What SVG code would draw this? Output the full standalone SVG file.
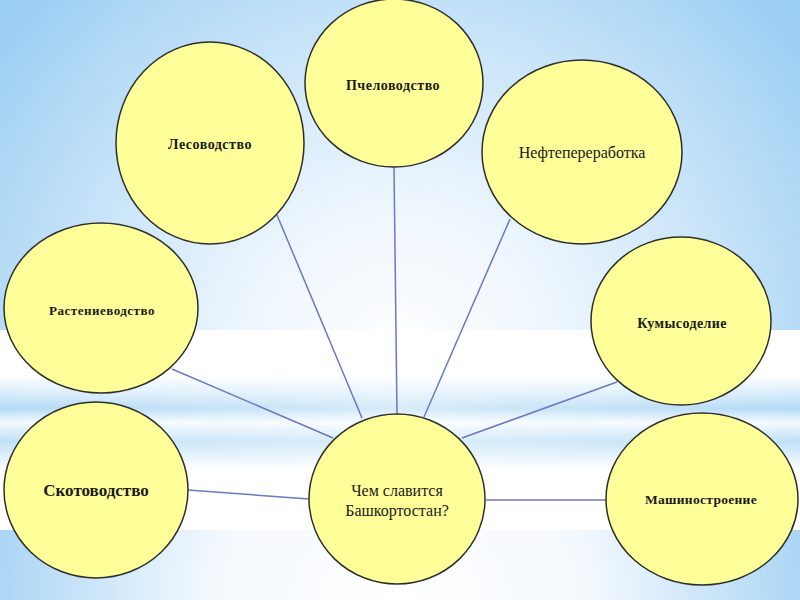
<svg xmlns="http://www.w3.org/2000/svg" width="800" height="600" viewBox="0 0 800 600">
<defs>
<radialGradient id="bgTop" cx="400" cy="360" r="520" gradientUnits="userSpaceOnUse">
<stop offset="0" stop-color="#ffffff"/>
<stop offset="0.3" stop-color="#eef6fd"/>
<stop offset="0.6" stop-color="#cde6f9"/>
<stop offset="1" stop-color="#9acef3"/>
</radialGradient>
<radialGradient id="bgBot" cx="400" cy="610" r="420" gradientUnits="userSpaceOnUse">
<stop offset="0" stop-color="#ffffff"/>
<stop offset="0.45" stop-color="#f4f9fe"/>
<stop offset="1" stop-color="#a6d3f4"/>
</radialGradient>
<linearGradient id="streakV" x1="0" y1="0" x2="0" y2="1">
<stop offset="0" stop-color="#ffffff"/>
<stop offset="0.2" stop-color="#d8ecfb"/>
<stop offset="0.35" stop-color="#b3daf6"/>
<stop offset="0.5" stop-color="#f4faff"/>
<stop offset="0.7" stop-color="#bfe0f7"/>
<stop offset="1" stop-color="#ffffff"/>
</linearGradient>
<linearGradient id="fadeH" x1="0" y1="0" x2="1" y2="0">
<stop offset="0" stop-color="#ffffff" stop-opacity="0"/>
<stop offset="0.5" stop-color="#ffffff" stop-opacity="0.45"/>
<stop offset="1" stop-color="#ffffff" stop-opacity="0"/>
</linearGradient>
<style>
.node ellipse{fill:#ffff99;stroke:#2e2e2e;stroke-width:1.5}
.node text{font-family:"Liberation Serif","Times New Roman",serif;fill:#1a1a1a;text-anchor:middle}
.b{font-weight:bold}
.n{fill:#3a3a2a}
#connectors line{stroke:#6b78c2;stroke-width:1.5}
</style>
</defs>
<g id="background">
<rect x="0" y="0" width="800" height="330" fill="url(#bgTop)"/>
<rect x="0" y="330" width="800" height="200" fill="#ffffff"/>
<rect x="0" y="375" width="800" height="95" fill="url(#streakV)"/>
<rect x="0" y="375" width="800" height="95" fill="url(#fadeH)"/>
<rect x="0" y="530" width="800" height="70" fill="url(#bgBot)"/>
</g>
<g id="connectors">
<line x1="277" y1="215" x2="362" y2="418"/>
<line x1="394" y1="167" x2="397" y2="414"/>
<line x1="510" y1="219" x2="424" y2="417"/>
<line x1="172" y1="369" x2="333" y2="438"/>
<line x1="617" y1="382" x2="462" y2="438"/>
<line x1="188" y1="490" x2="309" y2="499"/>
<line x1="486" y1="500" x2="606" y2="500"/>
</g>
<g id="node-center" class="node">
<ellipse cx="397" cy="499" rx="88" ry="85"/>
<text class="n" x="397" y="496" font-size="16">Чем славится</text>
<text class="n" x="397" y="516" font-size="16">Башкортостан?</text>
</g>
<g id="node-lesovodstvo" class="node">
<ellipse cx="210" cy="143" rx="94" ry="101"/>
<text class="b" x="210" y="149" font-size="14" letter-spacing="0.5">Лесоводство</text>
</g>
<g id="node-pchelovodstvo" class="node">
<ellipse cx="394" cy="83" rx="89" ry="84"/>
<text class="b" x="393" y="90" font-size="14" letter-spacing="0.5">Пчеловодство</text>
</g>
<g id="node-neft" class="node">
<ellipse cx="582" cy="152" rx="100" ry="92"/>
<text class="n" x="582" y="158" font-size="16">Нефтепереработка</text>
</g>
<g id="node-rastenievodstvo" class="node">
<ellipse cx="101" cy="308" rx="97" ry="85"/>
<text class="b" x="102" y="315" font-size="13" letter-spacing="0.5">Растениеводство</text>
</g>
<g id="node-kumys" class="node">
<ellipse cx="681" cy="321" rx="90" ry="84"/>
<text class="b" x="682" y="328" font-size="14" letter-spacing="0.4">Кумысоделие</text>
</g>
<g id="node-skotovodstvo" class="node">
<ellipse cx="96" cy="490" rx="92" ry="88"/>
<text class="b" x="96" y="496" font-size="17">Скотоводство</text>
</g>
<g id="node-mashinostroenie" class="node">
<ellipse cx="702" cy="499" rx="96" ry="86"/>
<text class="b" x="701" y="504" font-size="13.5" letter-spacing="0.3">Машиностроение</text>
</g>
</svg>
